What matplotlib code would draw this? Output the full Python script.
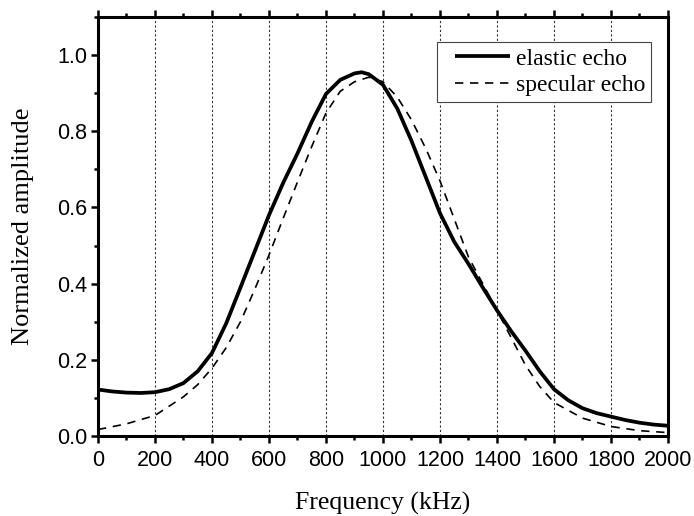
import matplotlib
matplotlib.use("Agg")
import matplotlib.pyplot as plt
from matplotlib.ticker import MultipleLocator
from matplotlib.legend_handler import HandlerLine2D
from matplotlib.lines import Line2D

# Data
freq_elastic = [0, 50, 100, 150, 200, 250, 300, 350, 400, 450, 500, 550, 600, 650, 700,
                750, 800, 850, 900, 925, 950, 1000, 1050, 1100, 1150, 1200, 1250, 1300,
                1350, 1400, 1450, 1500, 1550, 1600, 1650, 1700, 1750, 1800, 1850, 1900,
                1950, 2000]
amp_elastic = [0.122, 0.117, 0.114, 0.113, 0.115, 0.123, 0.139, 0.170, 0.218, 0.296, 0.390,
               0.485, 0.580, 0.665, 0.742, 0.825, 0.898, 0.935, 0.952, 0.955, 0.950, 0.922,
               0.860, 0.775, 0.680, 0.585, 0.510, 0.452, 0.390, 0.330, 0.275, 0.224, 0.170,
               0.123, 0.094, 0.073, 0.060, 0.051, 0.042, 0.035, 0.030, 0.027]

freq_specular = [0, 100, 200, 300, 350, 400, 450, 500, 550, 600, 650, 700, 750, 800, 850,
                 900, 950, 1000, 1050, 1100, 1150, 1200, 1250, 1300, 1350, 1400, 1450, 1500,
                 1550, 1600, 1700, 1800, 1900, 2000]
amp_specular = [0.017, 0.032, 0.054, 0.103, 0.135, 0.178, 0.232, 0.300, 0.385, 0.475, 0.572,
                0.667, 0.760, 0.848, 0.905, 0.930, 0.942, 0.930, 0.890, 0.830, 0.755, 0.670,
                0.570, 0.470, 0.400, 0.330, 0.258, 0.186, 0.130, 0.088, 0.047, 0.025, 0.014,
                0.009]

xticks = [0, 200, 400, 600, 800, 1000, 1200, 1400, 1600, 1800, 2000]
yticks = [0.0, 0.2, 0.4, 0.6, 0.8, 1.0]
grid_x = [200, 400, 600, 800, 1000, 1200, 1400, 1600, 1800]

serif = ["Liberation Serif", "DejaVu Serif"]
sans = ["Liberation Sans", "DejaVu Sans"]

fig = plt.figure(figsize=(6.94, 5.16), dpi=100)
ax = fig.add_axes([0.1412, 0.155, 0.8213, 0.812])

for gx in grid_x:
    ax.axvline(gx, color="#333333", lw=0.8, ls=(0, (2, 2)), zorder=1)

l1, = ax.plot(freq_elastic, amp_elastic, color="black", lw=2.7, solid_capstyle="butt",
              solid_joinstyle="round", label="elastic echo", zorder=3)
l2, = ax.plot(freq_specular, amp_specular, color="black", lw=1.2, dashes=(5, 4),
              label="specular echo", zorder=3)

ax.set_xlim(0, 2000)
ax.set_ylim(0, 1.1)
ax.set_xticks(xticks)
ax.set_yticks(yticks)
ax.xaxis.set_minor_locator(MultipleLocator(100))
ax.yaxis.set_minor_locator(MultipleLocator(0.1))

for s in ax.spines.values():
    s.set_linewidth(2.2)

ax.tick_params(which="major", direction="out", length=5, width=1.8,
               top=True, right=False, labelsize=15.5)
ax.tick_params(which="minor", direction="out", length=3, width=1.8,
               top=True, right=False)
ax.tick_params(axis="x", which="major", pad=5)
ax.tick_params(axis="y", which="major", pad=3)
for lab in ax.get_xticklabels() + ax.get_yticklabels():
    lab.set_family(sans)

ax.set_xlabel("Frequency (kHz)", family=serif, fontsize=18.5, labelpad=15)
ax.set_ylabel("Normalized amplitude", family=serif, fontsize=19, labelpad=16)

leg = ax.legend(loc="upper right", bbox_to_anchor=(0.970, 0.940), borderaxespad=0,
                prop={"family": serif, "size": 17}, fancybox=False, framealpha=1,
                edgecolor="#444444", handlelength=2.85, handletextpad=0.25,
                borderpad=0.25, labelspacing=0.2,
                handler_map={Line2D: HandlerLine2D(xpad=0.55)})
leg.get_frame().set_linewidth(0.8)

fig.savefig("out.png", dpi=100)
